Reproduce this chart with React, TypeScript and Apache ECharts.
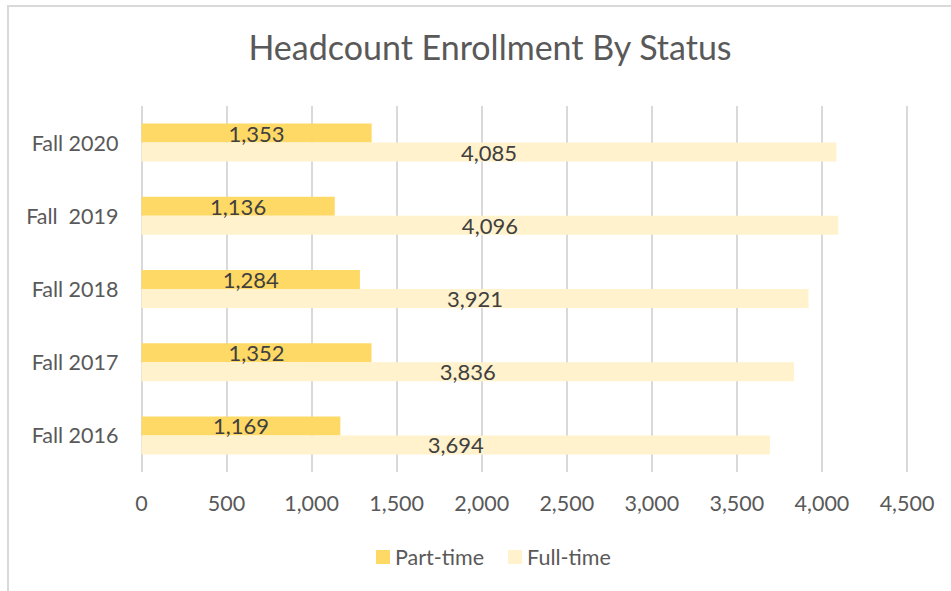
import React, { useEffect, useRef } from "react";
import * as echarts from "echarts";

const categories = ["Fall 2016", "Fall 2017", "Fall 2018", "Fall  2019", "Fall 2020"];
const partTime = [1169, 1352, 1284, 1136, 1353];
const fullTime = [3694, 3836, 3921, 4096, 4085];
const seriesNames = ["Part-time", "Full-time"];
const titleText = "Headcount Enrollment By Status";

const FONT = "Lato, 'Open Sans', sans-serif";

export default function App() {
  const ref = useRef<HTMLDivElement>(null);
  useEffect(() => {
    if (!ref.current) return;
    const chart = echarts.init(ref.current, undefined, { renderer: "svg" });
    const fmt = (v: number) => v.toLocaleString("en-US");
    chart.setOption({
      animation: false,
      backgroundColor: "#ffffff",
      textStyle: { fontFamily: FONT },
      title: {
        text: titleText,
        left: 485,
        top: 24,
        textAlign: "center",
        textStyle: { fontFamily: FONT, fontSize: 34, fontWeight: "normal", color: "#595959" },
      },
      graphic: [
        {
          type: "rect",
          shape: { x: 8, y: 6, width: 1000, height: 620 },
          style: { fill: "none", stroke: "#d9d9d9", lineWidth: 2 },
          silent: true,
        },
      ],
      legend: {
        data: seriesNames,
        left: 371,
        top: 541,
        itemWidth: 14,
        itemHeight: 14,
        itemGap: 24,
        icon: "rect",
        textStyle: { fontFamily: FONT, fontSize: 21.5, color: "#595959" },
      },
      grid: { left: 141.5, right: 44, top: 106, bottom: 119, containLabel: false },
      xAxis: {
        type: "value",
        min: 0,
        max: 4500,
        interval: 500,
        axisLine: { show: false },
        axisTick: { show: false },
        splitLine: { show: true, lineStyle: { color: "#d9d9d9", width: 2 } },
        axisLabel: {
          margin: 20,
          fontFamily: FONT,
          fontSize: 21.5,
          color: "#595959",
          formatter: (v: number) => fmt(v),
        },
      },
      yAxis: {
        type: "category",
        data: categories,
        axisLine: { show: false },
        axisTick: { show: false },
        axisLabel: { margin: 23, fontFamily: FONT, fontSize: 21.5, color: "#595959" },
      },
      series: [
        {
          name: seriesNames[0],
          type: "bar",
          data: partTime,
          barWidth: 19,
          barGap: "0%",
          itemStyle: { color: "#FFD966" },
          label: {
            show: true,
            position: "inside",
            fontFamily: FONT,
            fontSize: 22,
            color: "#404040",
            formatter: (p: any) => fmt(p.value),
          },
        },
        {
          name: seriesNames[1],
          type: "bar",
          data: fullTime,
          barWidth: 19,
          barGap: "0%",
          itemStyle: { color: "#FFF2CC" },
          label: {
            show: true,
            position: "inside",
            fontFamily: FONT,
            fontSize: 22,
            color: "#404040",
            formatter: (p: any) => fmt(p.value),
          },
        },
      ],
    });
    return () => chart.dispose();
  }, []);
  return (
    <div
      ref={ref}
      style={{ position: "absolute", left: 0, top: 0, width: 951, height: 591 }}
    />
  );
}
